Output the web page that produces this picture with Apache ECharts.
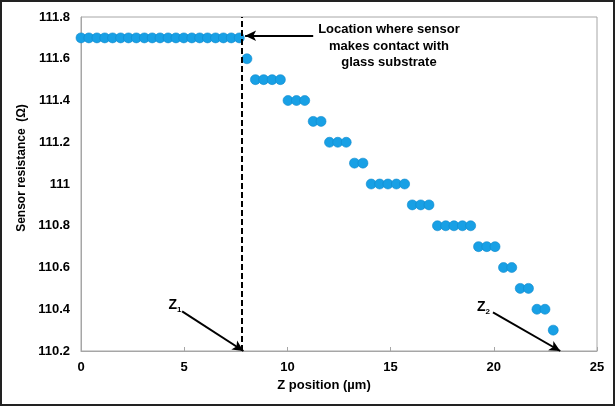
<!DOCTYPE html>
<html>
<head>
<meta charset="utf-8">
<script src="https://cdn.jsdelivr.net/npm/echarts@6/dist/echarts.min.js"></script>
<style>html,body{margin:0;padding:0;background:#fff;}#c{width:615px;height:406px;}</style>
</head>
<body>
<div id="c"></div>
<script>
// Z position (µm) of each measurement
var zPosition = [0, 0.38, 0.77, 1.15, 1.53, 1.92, 2.30, 2.68, 3.07, 3.45, 3.83, 4.22, 4.60, 4.98, 5.37, 5.75, 6.13, 6.52, 6.90, 7.28, 7.67,
  8.04,
  8.45, 8.85, 9.26, 9.66,
  10.03, 10.44, 10.84,
  11.25, 11.63,
  12.04, 12.44, 12.85,
  13.25, 13.66,
  14.06, 14.47, 14.87, 15.28, 15.68,
  16.05, 16.46, 16.86,
  17.27, 17.67, 18.07, 18.48, 18.88,
  19.26, 19.66, 20.06,
  20.47, 20.87,
  21.28, 21.68,
  22.09, 22.48,
  22.88];
// Sensor resistance (Ω)
var resistance = [111.7, 111.7, 111.7, 111.7, 111.7, 111.7, 111.7, 111.7, 111.7, 111.7, 111.7, 111.7, 111.7, 111.7, 111.7, 111.7, 111.7, 111.7, 111.7, 111.7, 111.7,
  111.6,
  111.5, 111.5, 111.5, 111.5,
  111.4, 111.4, 111.4,
  111.3, 111.3,
  111.2, 111.2, 111.2,
  111.1, 111.1,
  111.0, 111.0, 111.0, 111.0, 111.0,
  110.9, 110.9, 110.9,
  110.8, 110.8, 110.8, 110.8, 110.8,
  110.7, 110.7, 110.7,
  110.6, 110.6,
  110.5, 110.5,
  110.4, 110.4,
  110.3];
var yTickLabels = ['110.2', '110.4', '110.6', '110.8', '111', '111.2', '111.4', '111.6', '111.8'];
var xTickLabels = ['0', '5', '10', '15', '20', '25'];
var contactZ = 7.8;
var annotationText = ['Location where sensor', 'makes contact with', 'glass substrate'];

var points = zPosition.map(function (z, i) { return [z, resistance[i]]; });
var FONT = '"Liberation Sans", Arial, sans-serif';

var chart = echarts.init(document.getElementById('c'), null, { renderer: 'canvas' });
chart.setOption({
  animation: false,
  backgroundColor: '#fff',
  grid: { left: 81, right: 18, top: 17, bottom: 55, show: true, borderColor: '#a6a6a6', borderWidth: 1 },
  xAxis: {
    type: 'value', min: 0, max: 25, interval: 5,
    name: 'Z position (µm)', nameLocation: 'middle', nameGap: 28,
    nameTextStyle: { fontFamily: FONT, fontWeight: 'bold', fontSize: 13, color: '#000', padding: [0, 30, 0, 0] },
    axisLine: { lineStyle: { color: '#a6a6a6', width: 1 } },
    axisTick: { show: true, inside: true, length: 4, lineStyle: { color: '#a6a6a6' } },
    splitLine: { show: false },
    axisLabel: { margin: 10, fontFamily: FONT, fontWeight: 'bold', fontSize: 13, color: '#000',
      formatter: function (v) { return xTickLabels[Math.round(v / 5)]; } }
  },
  yAxis: {
    type: 'value', min: 110.2, max: 111.8, interval: 0.2,
    name: 'Sensor resistance  (Ω)', nameLocation: 'middle', nameGap: 53, nameRotate: 90,
    nameTextStyle: { fontFamily: FONT, fontWeight: 'bold', fontSize: 12, color: '#000', padding: [0, 0, 0, 32] },
    axisLine: { show: true, lineStyle: { color: '#a6a6a6', width: 1 } },
    axisTick: { show: false },
    splitLine: { show: false },
    axisLabel: { margin: 11, fontFamily: FONT, fontWeight: 'bold', fontSize: 13, color: '#000',
      formatter: function (v) { return yTickLabels[Math.round((v - 110.2) / 0.2)]; } }
  },
  series: [{
    type: 'scatter',
    data: points,
    symbol: 'circle',
    symbolSize: 10,
    itemStyle: { color: '#18a0e5', borderColor: '#1189cc', borderWidth: 0.6, opacity: 1 },
    markLine: {
      silent: true,
      animation: false,
      symbol: ['none', 'arrow'],
      symbolSize: [8, 11],
      label: { show: false },
      lineStyle: { color: '#000', width: 2, type: 'solid' },
      data: [
        [{ coord: [contactZ, 110.2], symbol: 'none', lineStyle: { color: '#000', width: 2, type: [6, 3] } },
         { coord: [contactZ, 111.8], symbol: 'none' }],
        [{ coord: [11.25, 111.71] }, { coord: [7.95, 111.71] }],
        [{ coord: [4.9, 110.39] }, { coord: [7.87, 110.2] }],
        [{ coord: [19.96, 110.385] }, { coord: [23.22, 110.2] }]
      ]
    },
    markPoint: {
      silent: true,
      animation: false,
      symbol: 'circle',
      symbolSize: 1,
      itemStyle: { color: 'rgba(0,0,0,0)' },
      label: {
        show: true, position: 'inside', color: '#000', fontFamily: FONT, fontWeight: 'bold', fontSize: 13,
        rich: {
          z: { fontFamily: FONT, fontWeight: 'bold', fontSize: 14, color: '#000' },
          s: { fontFamily: FONT, fontWeight: 'bold', fontSize: 8, color: '#000', padding: [9, 0, 0, 0] }
        }
      },
      data: [
        { coord: [14.92, 111.661], label: { formatter: annotationText.join('\n'), lineHeight: 16.5, align: 'center' } },
        { coord: [4.55, 110.42], label: { formatter: '{z|Z}{s|1}' } },
        { coord: [19.5, 110.41], label: { formatter: '{z|Z}{s|2}' } }
      ]
    }
  }],
  graphic: [{
    type: 'rect', silent: true, z: 100,
    shape: { x: 1, y: 1, width: 613, height: 404 },
    style: { fill: 'none', stroke: '#222', lineWidth: 2 }
  }]
});
</script>
</body>
</html>
